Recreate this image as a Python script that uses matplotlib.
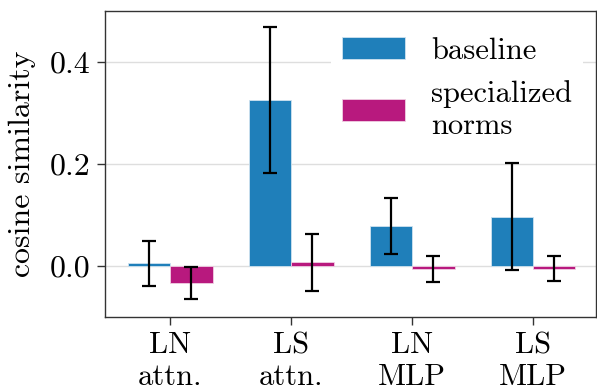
import matplotlib
matplotlib.use("Agg")
import matplotlib.pyplot as plt
import numpy as np

categories = ["LN\nattn.", "LS\nattn.", "LN\nMLP", "LS\nMLP"]
baseline_mean = [0.005, 0.325, 0.078, 0.097]
baseline_err = [0.045, 0.143, 0.055, 0.104]
special_mean = [-0.033, 0.007, -0.006, -0.005]
special_err = [0.032, 0.056, 0.025, 0.025]
series_labels = ["baseline", "specialized\nnorms"]
yticks = [0.0, 0.2, 0.4]

plt.rcParams["font.family"] = "serif"
plt.rcParams["font.serif"] = ["cmr10"]
plt.rcParams["mathtext.fontset"] = "cm"
plt.rcParams["axes.unicode_minus"] = False
plt.rcParams["axes.formatter.use_mathtext"] = True

fig = plt.figure(figsize=(5.97, 3.90), dpi=100)
ax = fig.add_axes([105/597, 1-317/390, (596-105)/597, (317-11)/390])

x = np.arange(len(categories))
w = 0.35
blue = "#1f7fba"
mag = "#b8197e"
ekw = dict(ecolor="black", capsize=5, elinewidth=1.6, capthick=1.6)
ax.bar(x - w/2, baseline_mean, w, yerr=baseline_err, color=blue, edgecolor="#cfe3f0",
       linewidth=0.6, label=series_labels[0], error_kw=ekw, zorder=2)
ax.bar(x + w/2, special_mean, w, yerr=special_err, color=mag, edgecolor="#f0cfe3",
       linewidth=0.6, label=series_labels[1], error_kw=ekw, zorder=2)

ax.set_xlim(-0.54, 3.52)
ax.set_ylim(-0.1, 0.5)
ax.set_xticks(x)
ax.set_xticklabels(categories, fontsize=22, linespacing=1.2)
ax.set_yticks(yticks)
ax.set_yticklabels([f"{v:.1f}" for v in yticks], fontsize=23)
ax.set_ylabel("cosine similarity", fontsize=23, labelpad=10)
ax.yaxis.grid(True, color="#dedede", linewidth=1.0, zorder=0)
ax.set_axisbelow(True)
for s in ax.spines.values():
    s.set_color("#333333")
    s.set_linewidth(1.0)
ax.tick_params(axis="both", direction="out", length=5.5, width=1.0, color="#333333")
ax.tick_params(axis="x", pad=5)
ax.tick_params(axis="y", pad=5)

leg = ax.legend(loc="upper right", bbox_to_anchor=(0.9735, 0.95), fontsize=22,
                frameon=True, framealpha=1.0, edgecolor="none", facecolor="white",
                handlelength=2.06, handleheight=0.72, handletextpad=0.85,
                labelspacing=0.5, borderaxespad=0.0, borderpad=0.36, fancybox=False)

fig.savefig("out.png", dpi=100)
